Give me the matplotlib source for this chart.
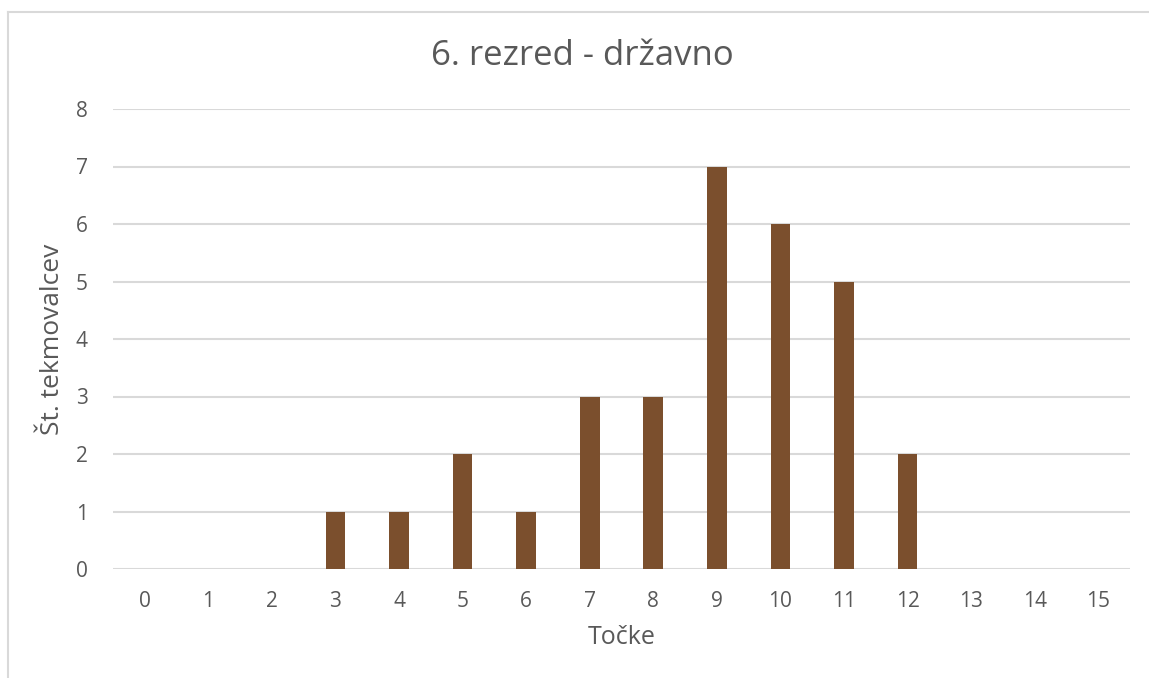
import numpy as np
import matplotlib.pyplot as plt
from matplotlib.lines import Line2D

points = list(range(16))
counts = [0, 0, 0, 1, 1, 2, 1, 3, 3, 7, 6, 5, 2, 0, 0, 0]
yticks = list(range(9))

plt.rcParams['font.family'] = ['Open Sans', 'DejaVu Sans']
txt = '#595959'
grid = '#D9D9D9'

fig = plt.figure(figsize=(11.49, 6.78), dpi=100)
W, H = 1149, 678

# chart border, only left and top edges show in the crop
x0, y0 = 7.5 / W, 1 - 11.5 / H
fig.add_artist(Line2D([x0, x0], [0, y0], transform=fig.transFigure, color=grid, lw=1.5))
fig.add_artist(Line2D([x0, 1], [y0, y0], transform=fig.transFigure, color=grid, lw=1.5))

ax = fig.add_axes([113 / W, (H - 569) / H, 1017 / W, 460 / H])
ax.bar(points, counts, width=0.31, color='#7B4F2D', zorder=3)

ax.set_xlim(-0.5, 15.5)
ax.set_ylim(0, 8)
ax.set_xticks(points)
ax.set_yticks(yticks)
ax.yaxis.grid(True, color=grid, linewidth=1.5, zorder=0)
for s in ax.spines.values():
    s.set_visible(False)
ax.tick_params(length=0, labelsize=15, labelcolor=txt)
ax.tick_params(axis='x', pad=16)
ax.tick_params(axis='y', pad=18)

ax.set_xlabel('Točke', fontsize=18, color=txt, labelpad=9)
ax.set_ylabel('Št. tekmovalcev', fontsize=19, color=txt, labelpad=8)
fig.text(582 / W, 1 - 56 / H, '6. rezred - državno', fontsize=25, color=txt,
         ha='center', va='center')

fig.savefig('out.png', dpi=100)
